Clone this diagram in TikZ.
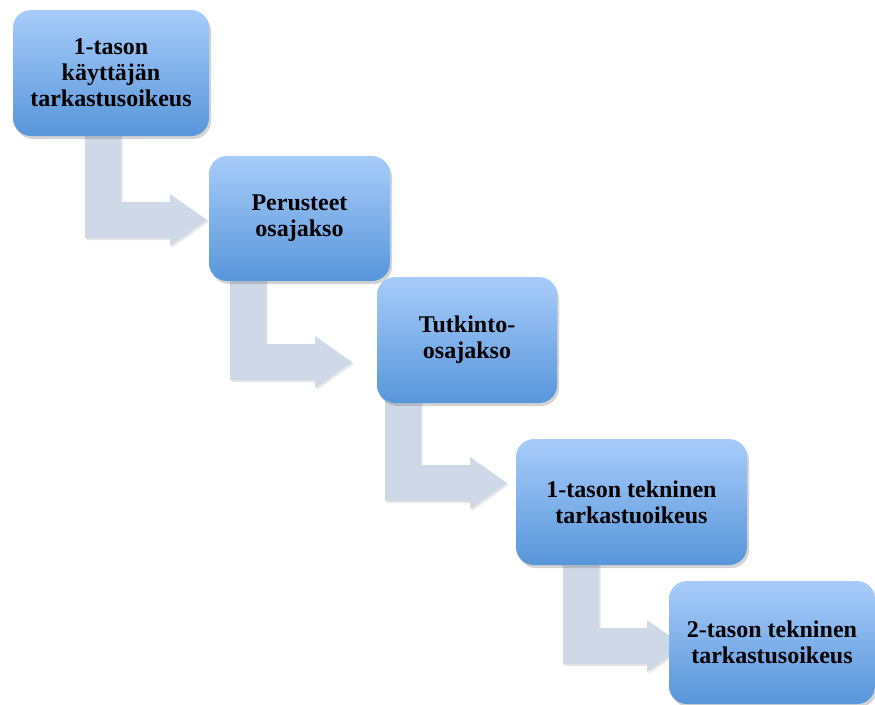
\documentclass[tikz,border=0pt]{standalone}
\usepackage{fontspec}
\setmainfont{Liberation Serif}
\usetikzlibrary{shadows}
\definecolor{boxtop}{RGB}{168,204,250}
\definecolor{boxbot}{RGB}{88,150,218}
\definecolor{arrowfill}{RGB}{206,216,230}
\tikzset{
  stepbox/.style={rounded corners=18pt, top color=boxtop, bottom color=boxbot,
    draw=none, align=center, inner sep=0pt,
    font=\bfseries\fontsize{24}{26}\selectfont, text=black,
    drop shadow={opacity=0.35, shadow xshift=2pt, shadow yshift=-3pt}},
  bentarrow/.style={fill=arrowfill, draw=none,
    drop shadow={opacity=0.2, shadow xshift=1.5pt, shadow yshift=-2pt}}
}
% #1 left x of bar, #2 top y, #3 tip x, #4 centre y of horizontal bar
\newcommand\mybentarrow[4]{%
  \path[bentarrow] (#1,#2) -- ({#1+36},#2) -- ({#1+36},{#4-18}) -- ({#3-37},{#4-18})
    -- ({#3-37},{#4-26}) -- (#3,#4) -- ({#3-37},{#4+26}) -- ({#3-37},{#4+18})
    -- (#1,{#4+18}) -- cycle;}
\begin{document}
\begin{tikzpicture}[x=1pt,y=-1pt]
\useasboundingbox (0,0) rectangle (875,704);
\clip (0,0) rectangle (875,704);
% arrows
\mybentarrow{85}{130}{207}{220}
\mybentarrow{230}{275}{352}{362}
\mybentarrow{385}{397}{507}{483}
\mybentarrow{563}{558}{684}{646}
% boxes
\node[stepbox, minimum width=196pt, minimum height=126pt] (b1) at (111,73)
  {1-tason\\käyttäjän\\tarkastusoikeus};
\node[stepbox, minimum width=181pt, minimum height=125pt] (b2) at (299.5,218.5)
  {Perusteet\\osajakso};
\node[stepbox, minimum width=180pt, minimum height=126pt] (b3) at (467,340)
  {Tutkinto-\\osajakso};
\node[stepbox, minimum width=231pt, minimum height=126pt] (b4) at (631.5,502)
  {1-tason tekninen\\tarkastuoikeus};
\node[stepbox, minimum width=206pt, minimum height=123pt] (b5) at (772,642.5)
  {2-tason tekninen\\tarkastusoikeus};
\end{tikzpicture}
\end{document}
